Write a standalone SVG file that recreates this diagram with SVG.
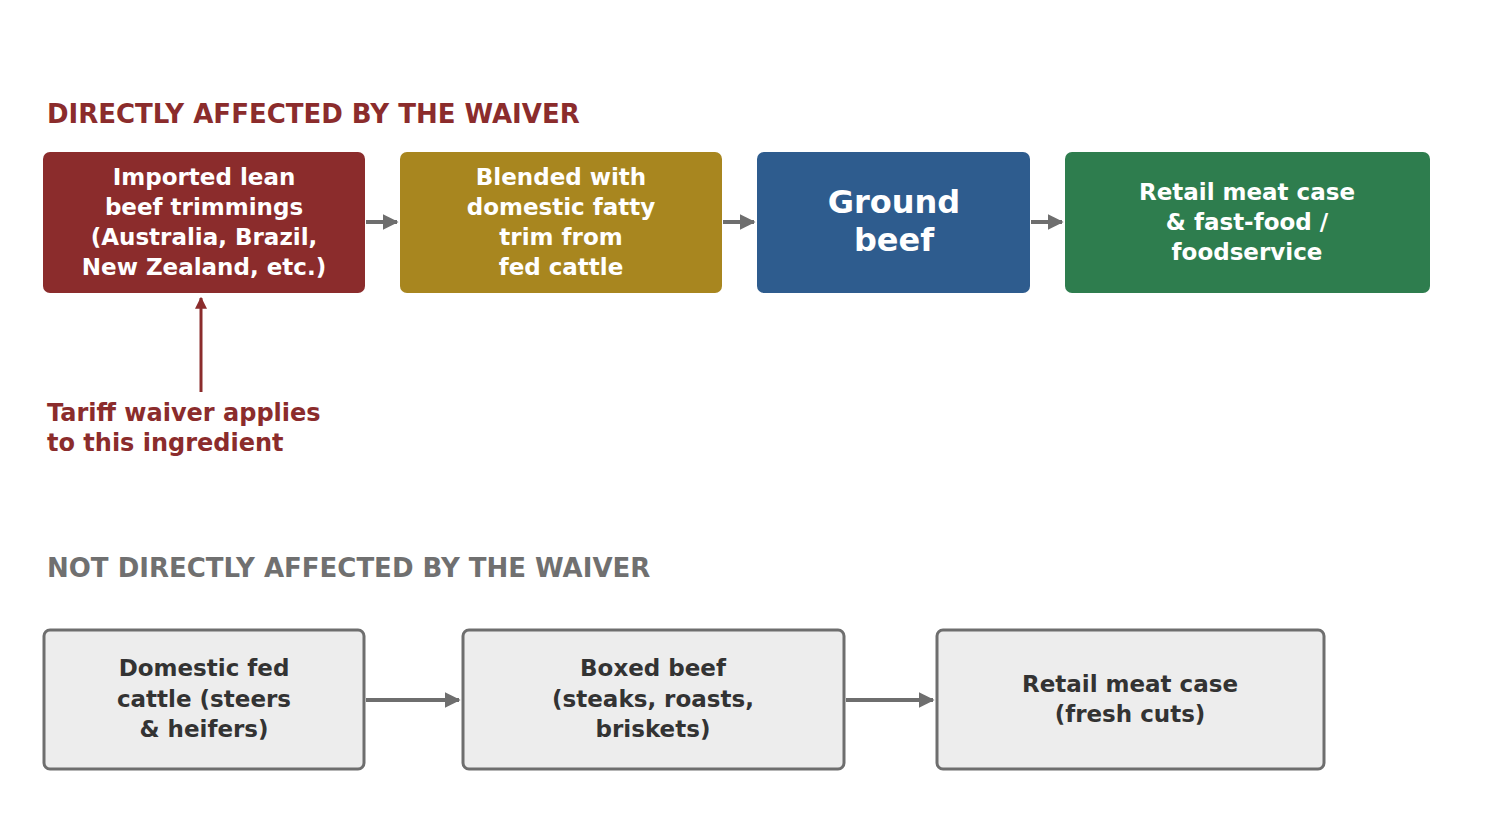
<svg xmlns="http://www.w3.org/2000/svg" width="1485" height="825" viewBox="0 0 1485 825">
<style>
text{font-family:"DejaVu Sans",sans-serif;font-weight:bold;text-anchor:middle;dominant-baseline:central}
.w{fill:#fff;font-size:23px}
.g{fill:#333;font-size:23px}
.h{font-size:26px;text-anchor:start}
.lb{fill:#ededed;stroke:#6e6e6e;stroke-width:3}
</style>
<defs>
<marker id="a" viewBox="0 0 10 10" refX="9" refY="5" markerWidth="4" markerHeight="4" orient="auto"><path d="M0,0L10,5L0,10z" fill="#6e6e6e"/></marker>
<marker id="r" viewBox="0 0 10 10" refX="9" refY="5" markerWidth="4" markerHeight="4" orient="auto"><path d="M0,0L10,5L0,10z" fill="#8b2c2c"/></marker>
</defs>
<rect width="1485" height="825" fill="#fff"/>
<text class="h" x="47" y="114" fill="#8b2c2c">DIRECTLY AFFECTED BY THE WAIVER</text>
<text class="h" x="47" y="568" fill="#707070">NOT DIRECTLY AFFECTED BY THE WAIVER</text>
<g id="n1"><rect x="43" y="152" width="322" height="141" rx="7" fill="#8b2c2c"/>
<text class="w" x="204" y="177">Imported lean</text><text class="w" x="204" y="207">beef trimmings</text><text class="w" x="204" y="237">(Australia, Brazil,</text><text class="w" x="204" y="267">New Zealand, etc.)</text></g>
<g id="n2"><rect x="400" y="152" width="322" height="141" rx="7" fill="#a8861f"/>
<text class="w" x="561" y="177">Blended with</text><text class="w" x="561" y="207">domestic fatty</text><text class="w" x="561" y="237">trim from</text><text class="w" x="561" y="267">fed cattle</text></g>
<g id="n3"><rect x="757" y="152" width="273" height="141" rx="7" fill="#2e5c8e"/>
<text class="w" x="894" y="202" style="font-size:32px">Ground</text><text class="w" x="894" y="240" style="font-size:32px">beef</text></g>
<g id="n4"><rect x="1065" y="152" width="365" height="141" rx="7" fill="#2e7d4e"/>
<text class="w" x="1247" y="192">Retail meat case</text><text class="w" x="1247" y="222">&amp; fast-food /</text><text class="w" x="1247" y="252">foodservice</text></g>
<g id="note"><text x="47" y="413" fill="#8b2c2c" style="font-size:24px;text-anchor:start">Tariff waiver applies</text><text x="47" y="443" fill="#8b2c2c" style="font-size:24px;text-anchor:start">to this ingredient</text></g>
<g id="b1"><rect class="lb" x="44" y="630" width="320" height="139" rx="6"/>
<text class="g" x="204" y="668">Domestic fed</text><text class="g" x="204" y="699">cattle (steers</text><text class="g" x="204" y="729">&amp; heifers)</text></g>
<g id="b2"><rect class="lb" x="463" y="630" width="381" height="139" rx="6"/>
<text class="g" x="653" y="668">Boxed beef</text><text class="g" x="653" y="699">(steaks, roasts,</text><text class="g" x="653" y="729">briskets)</text></g>
<g id="b3"><rect class="lb" x="937" y="630" width="387" height="139" rx="6"/>
<text class="g" x="1130" y="684">Retail meat case</text><text class="g" x="1130" y="714">(fresh cuts)</text></g>
<g id="edges" stroke="#6e6e6e" stroke-width="4" fill="none">
<line x1="366" y1="222" x2="397" y2="222" marker-end="url(#a)"/>
<line x1="723" y1="222" x2="754" y2="222" marker-end="url(#a)"/>
<line x1="1031" y1="222" x2="1062" y2="222" marker-end="url(#a)"/>
<line x1="366" y1="700" x2="459" y2="700" marker-end="url(#a)"/>
<line x1="846" y1="700" x2="933" y2="700" marker-end="url(#a)"/>
<line x1="201" y1="392" x2="201" y2="298" stroke="#8b2c2c" stroke-width="3" marker-end="url(#r)"/>
</g>
</svg>
